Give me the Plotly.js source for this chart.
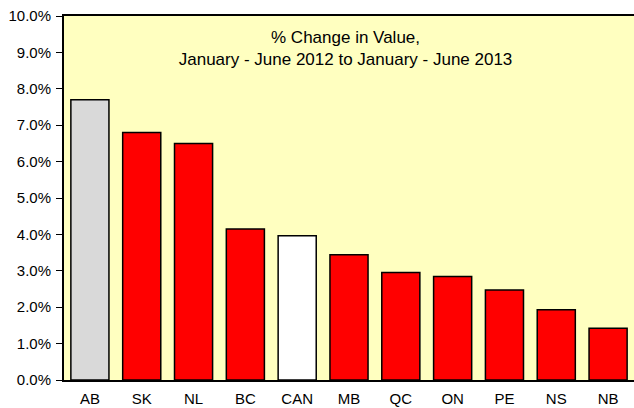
<!DOCTYPE html>
<html>
<head>
<meta charset="utf-8">
<script src="https://cdn.plot.ly/plotly-3.0.1.min.js"></script>
<style>html,body{margin:0;padding:0;background:#fff;}#chart{width:634px;height:408px;}</style>
</head>
<body>
<div id="chart"></div>
<script>
const categories = ["AB", "SK", "NL", "BC", "CAN", "MB", "QC", "ON", "PE", "NS", "NB"];
const values = [7.7, 6.8, 6.5, 4.15, 3.96, 3.44, 2.95, 2.84, 2.47, 1.93, 1.42];
const barColors = ["#D9D9D9", "#FF0000", "#FF0000", "#FF0000", "#FFFFFF", "#FF0000", "#FF0000", "#FF0000", "#FF0000", "#FF0000", "#FF0000"];
const yTickVals = [0, 1, 2, 3, 4, 5, 6, 7, 8, 9, 10];
const yTickText = ["0.0%", "1.0%", "2.0%", "3.0%", "4.0%", "5.0%", "6.0%", "7.0%", "8.0%", "9.0%", "10.0%"];

const trace = {
  type: "bar",
  x: categories,
  y: values,
  marker: {color: barColors, line: {color: "#000000", width: 1.5}},
  hoverinfo: "x+y"
};

const layout = {
  width: 634,
  height: 408,
  margin: {l: 64, r: 0, t: 16, b: 28, pad: 0},
  paper_bgcolor: "#FFFFFF",
  plot_bgcolor: "#FFFFC0",
  font: {family: "Liberation Sans, Arial, sans-serif", size: 15, color: "#000000"},
  bargap: 0.265,
  showlegend: false,
  title: {
    text: "% Change in Value,<br>January - June 2012 to January - June 2013",
    font: {family: "Liberation Sans, Arial, sans-serif", size: 17, color: "#000000"},
    x: 0.545, xanchor: "center", xref: "container",
    y: 1 - 43 / 408, yanchor: "middle", yref: "container"
  },
  xaxis: {
    type: "category",
    showline: true, linecolor: "#000000", linewidth: 2, mirror: true,
    ticks: "", showgrid: false, zeroline: false,
    ticklabelstandoff: 4,
    tickfont: {size: 15}
  },
  yaxis: {
    range: [0, 10],
    tickmode: "array",
    tickvals: yTickVals,
    ticktext: yTickText,
    showline: true, linecolor: "#000000", linewidth: 2, mirror: true,
    ticks: "outside", ticklen: 6, tickcolor: "#000000", tickwidth: 1,
    ticklabelstandoff: 2,
    showgrid: false, zeroline: false,
    tickfont: {size: 15}
  }
};

Plotly.newPlot("chart", [trace], layout, {displayModeBar: false, staticPlot: true});
</script>
</body>
</html>
